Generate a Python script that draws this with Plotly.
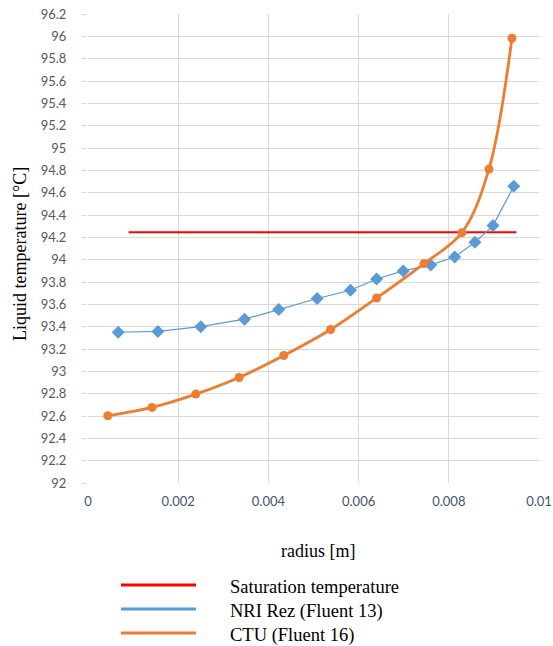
import plotly.graph_objects as go

# ---- data ----
sat_r = [0.0009, 0.0095]
sat_t = [94.245, 94.245]

nri_r = [0.00067, 0.00155, 0.0025, 0.00347, 0.00423, 0.00508, 0.00582, 0.0064,
         0.00699, 0.0076, 0.00813, 0.00858, 0.00898, 0.00944]
nri_t = [93.35, 93.357, 93.40, 93.467, 93.553, 93.652, 93.726, 93.827,
         93.899, 93.953, 94.024, 94.156, 94.305, 94.657]

ctu_r = [0.00044, 0.00142, 0.00239, 0.00335, 0.00434, 0.00538, 0.0064,
         0.00745, 0.00829, 0.00889, 0.0094]
ctu_t = [92.602, 92.677, 92.796, 92.945, 93.142, 93.375, 93.657,
         93.965, 94.242, 94.811, 95.983]

legend_names = ["Saturation temperature", "NRI Rez (Fluent 13)", "CTU (Fluent 16)"]
colors = ["#FF0000", "#5B9BD5", "#ED7D31"]
x_title = "radius [m]"
y_title = "Liquid temperature [°C]"

y_ticks = [92 + 0.2 * i for i in range(22)]
y_tick_text = [f"{v:.1f}".rstrip("0").rstrip(".") for v in y_ticks]
x_ticks = [0, 0.002, 0.004, 0.006, 0.008, 0.01]
x_tick_text = ["0", "0.002", "0.004", "0.006", "0.008", "0.01"]

W, H = 553, 646
L, R, T, B = 88, 14, 14, 163
PW, PH = W - L - R, H - T - B

def px(x):
    return (x - L) / PW

def py(y):
    return (H - B - y) / PH

fig = go.Figure()
fig.add_trace(go.Scatter(x=sat_r, y=sat_t, mode="lines", name=legend_names[0],
                         line=dict(color=colors[0], width=2), showlegend=False))
fig.add_trace(go.Scatter(x=nri_r, y=nri_t, mode="lines+markers", name=legend_names[1],
                         line=dict(color=colors[1], width=1.2),
                         marker=dict(symbol="diamond", size=10, color=colors[1]),
                         showlegend=False))
fig.add_trace(go.Scatter(x=ctu_r, y=ctu_t, mode="lines+markers", name=legend_names[2],
                         line=dict(color=colors[2], width=2.8, shape="spline", smoothing=1.0),
                         marker=dict(symbol="circle", size=9, color=colors[2]),
                         showlegend=False))

serif = "Liberation Serif"
shapes = []
annotations = []
leg_y = [585, 609, 633]
for i, (name, c) in enumerate(zip(legend_names, colors)):
    shapes.append(dict(type="line", xref="paper", yref="paper",
                       x0=px(121), x1=px(196), y0=py(leg_y[i]), y1=py(leg_y[i]),
                       line=dict(color=c, width=3)))
    annotations.append(dict(xref="paper", yref="paper", x=px(228), y=py(leg_y[i] + 2),
                            text=name, showarrow=False, xanchor="left", yanchor="middle",
                            font=dict(family=serif, size=18.5, color="#000000")))

# axis titles
annotations.append(dict(xref="paper", yref="paper", x=px(318), y=py(551),
                        text=x_title, showarrow=False, xanchor="center", yanchor="middle",
                        font=dict(family=serif, size=18, color="#000000")))
annotations.append(dict(xref="paper", yref="paper", x=px(20), y=py(254),
                        text=y_title, showarrow=False, xanchor="center", yanchor="middle",
                        textangle=-90,
                        font=dict(family=serif, size=18, color="#000000")))

fig.update_layout(
    width=W, height=H,
    font=dict(family=serif, size=18, color="#000000"),
    margin=dict(l=L, r=R, t=T, b=B, autoexpand=False),
    paper_bgcolor="white", plot_bgcolor="white",
    shapes=shapes, annotations=annotations,
    xaxis=dict(range=[0, 0.01], tickvals=x_ticks, ticktext=x_tick_text,
               showgrid=True, gridcolor="#D9D9D9", gridwidth=1,
               zeroline=False, showline=False, automargin=False,
               tickfont=dict(family="Lato", size=13, color="#44546A"),
               ticks="", ticklabelstandoff=9),
    yaxis=dict(range=[92, 96.2], tickvals=y_ticks, ticktext=y_tick_text,
               showgrid=True, gridcolor="#D9D9D9", gridwidth=1,
               zeroline=False, showline=False, automargin=False,
               ticks="outside", ticklen=5, tickcolor="#D9D9D9",
               tickfont=dict(family="Lato", size=13, color="#595959"),
               ticklabelstandoff=13),
)

fig.write_html("out.html")
